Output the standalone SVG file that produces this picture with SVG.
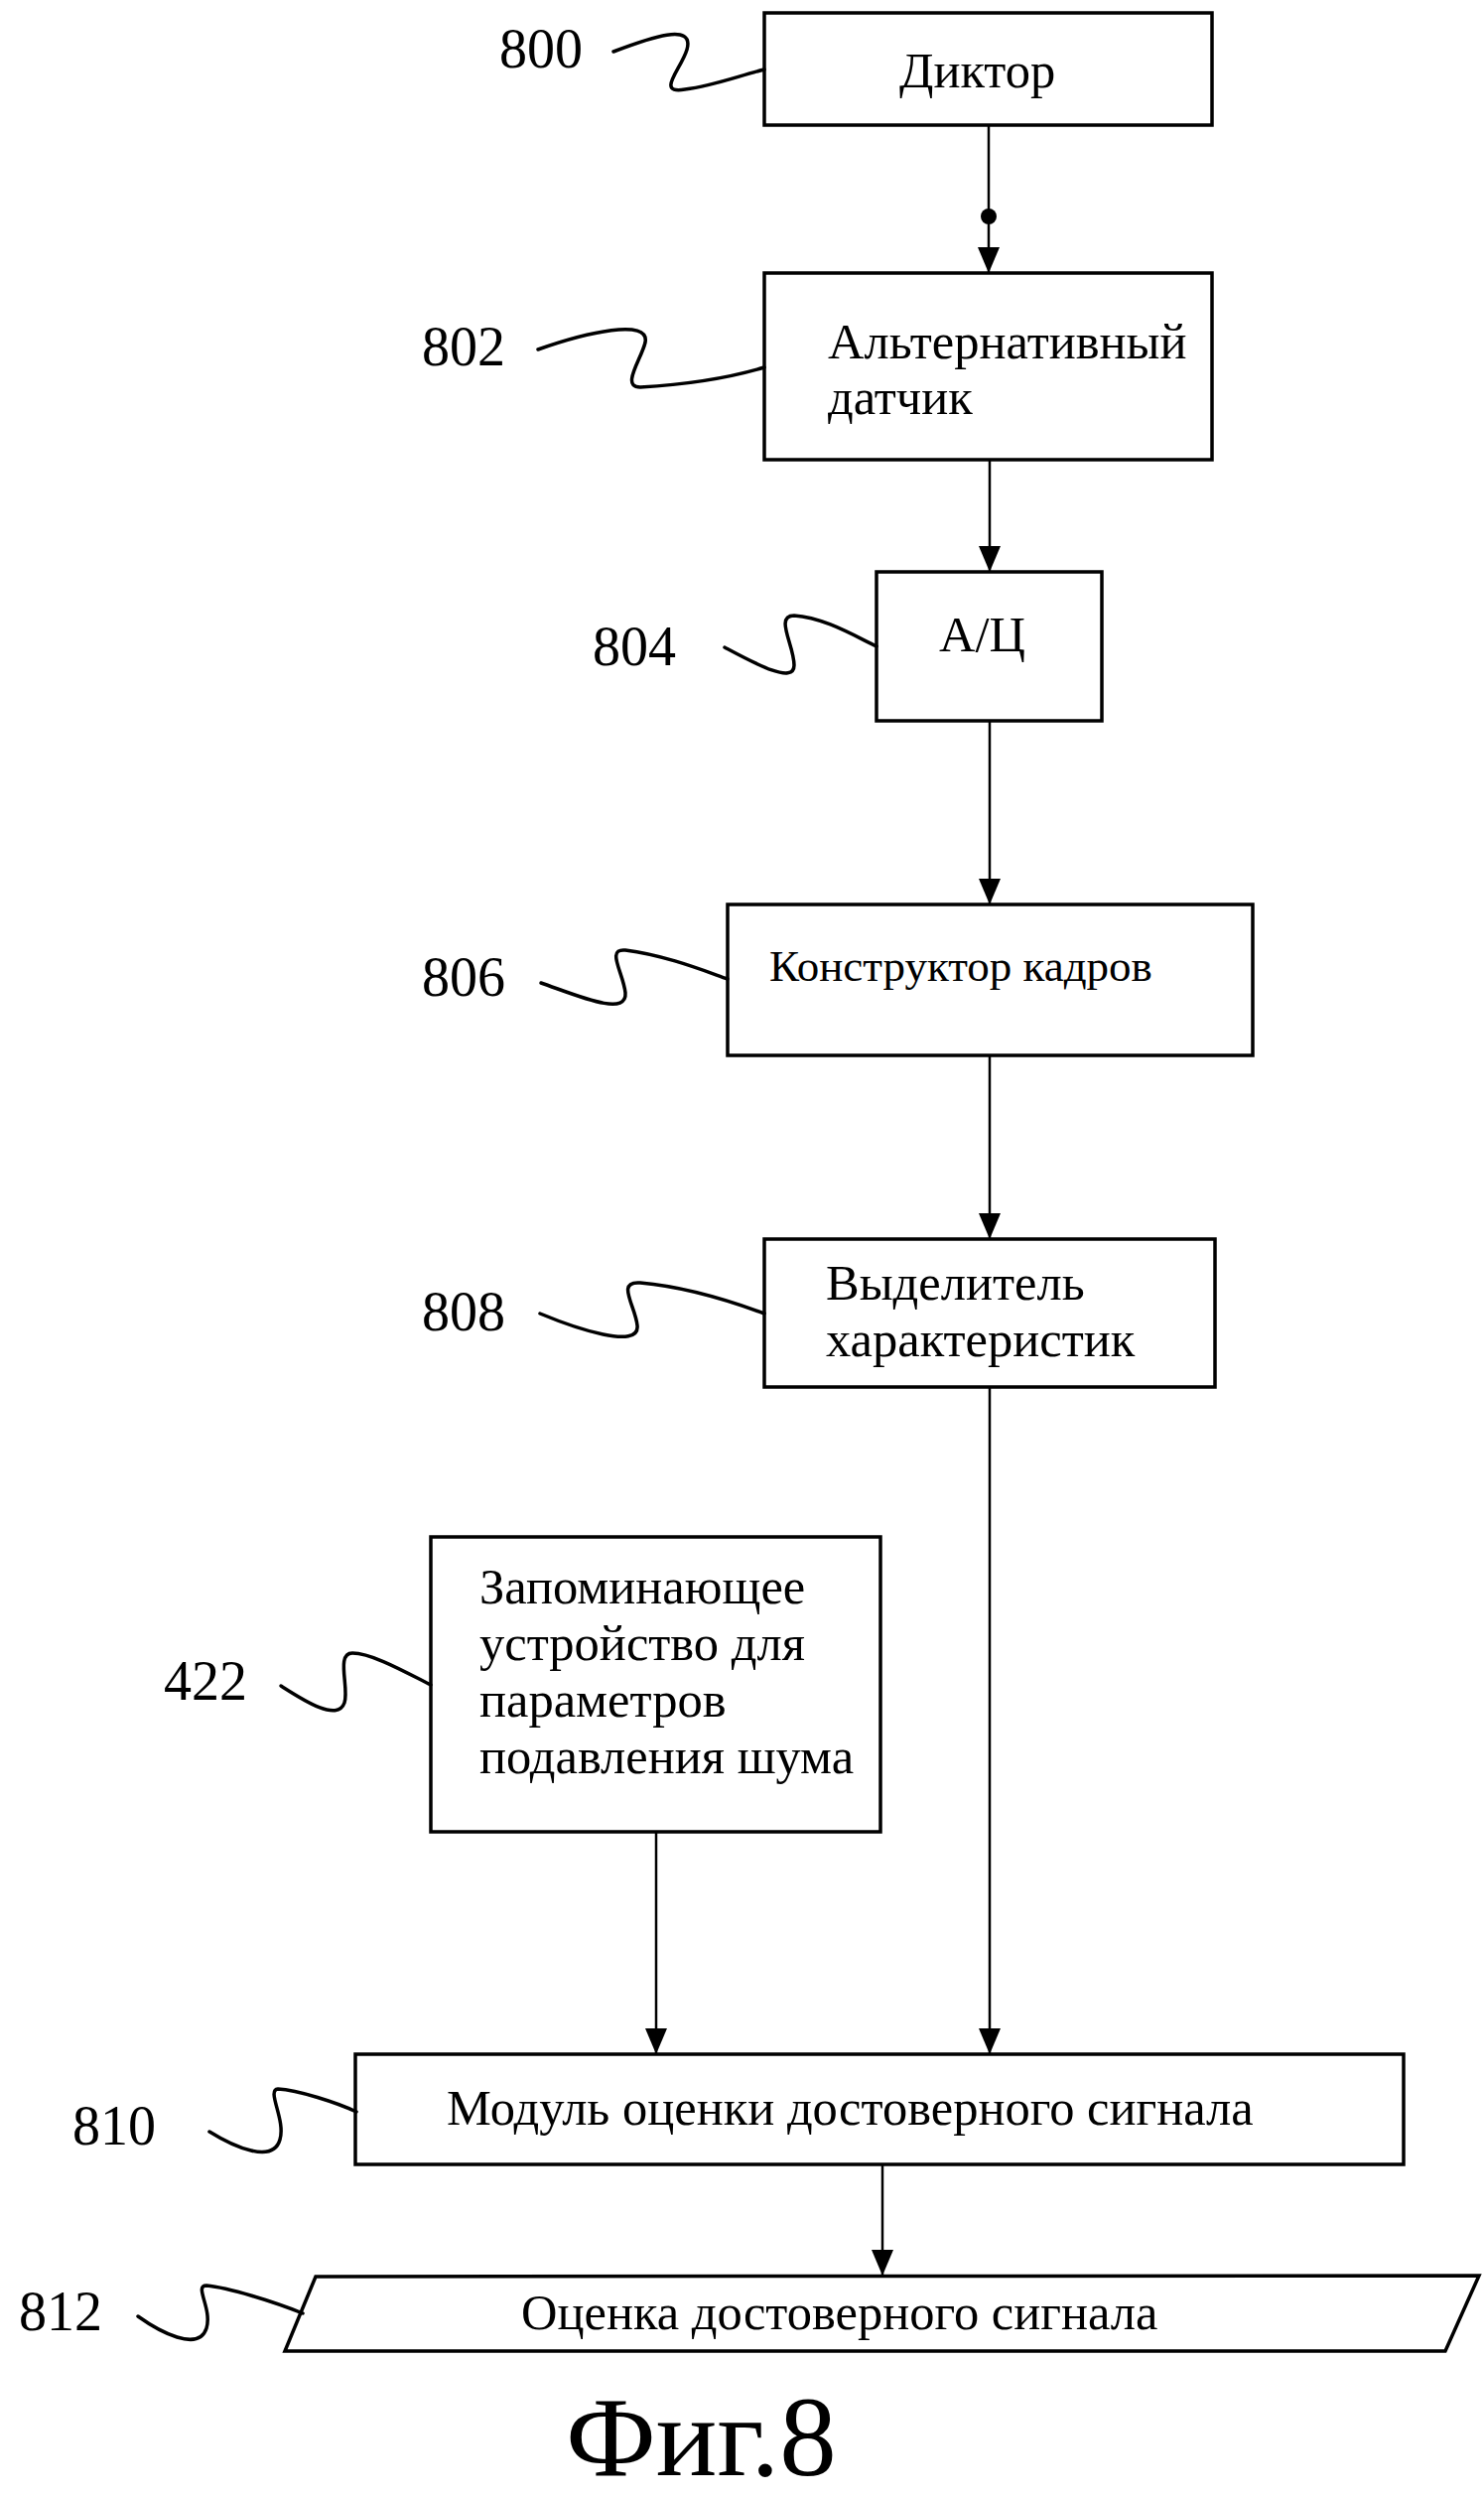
<svg xmlns="http://www.w3.org/2000/svg" width="1495" height="2516" viewBox="0 0 1495 2516">
<style>
.box{fill:#fff;stroke:#000;stroke-width:3.5}
.t{font-family:"Liberation Serif","Times New Roman",serif;font-size:50.5px;fill:#000}
.lbl{font-family:"Liberation Serif","Times New Roman",serif;font-size:56px;fill:#000}
.lead{fill:none;stroke:#000;stroke-width:3.5;stroke-linecap:round}
.con{fill:none;stroke:#000;stroke-width:2.5}
</style>
<defs>
<marker id="arr" markerWidth="26" markerHeight="22" refX="26" refY="11" orient="auto" markerUnits="userSpaceOnUse">
<path d="M0,0 L26,11 L0,22 Z" fill="#000"/>
</marker>
</defs>
<rect width="1495" height="2516" fill="#fff"/>
<g id="connectors">
<path class="con" d="M996,126 V275" marker-end="url(#arr)"/>
<circle cx="996" cy="218" r="8" fill="#000"/>
<path class="con" d="M997,463 V576" marker-end="url(#arr)"/>
<path class="con" d="M997,726 V911" marker-end="url(#arr)"/>
<path class="con" d="M997,1063 V1248" marker-end="url(#arr)"/>
<path class="con" d="M997,1397 V2069" marker-end="url(#arr)"/>
<path class="con" d="M661,1845 V2069" marker-end="url(#arr)"/>
<path class="con" d="M889,2180 V2292" marker-end="url(#arr)"/>
</g>
<g id="n800">
<rect class="box" x="770" y="13" width="451" height="113"/>
<text class="t" x="906" y="88">Диктор</text>
<text class="lbl" x="503" y="68">800</text>
<path class="lead" d="M618,52 C655,38 700,22 692,50 C686,70 660,95 690,90 C720,86 745,76 770,70"/>
</g>
<g id="n802">
<rect class="box" x="770" y="275" width="451" height="188"/>
<text class="t" x="834" y="361">Альтернативный</text>
<text class="t" x="834" y="417">датчик</text>
<text class="lbl" x="425" y="368">802</text>
<path class="lead" d="M542,352 C590,335 655,320 650,345 C646,362 625,390 645,390 C680,388 730,382 770,370"/>
</g>
<g id="n804">
<rect class="box" x="883" y="576" width="227" height="150"/>
<text class="t" x="946" y="656">А/Ц</text>
<text class="lbl" x="597" y="670">804</text>
<path class="lead" d="M730,652 C760,668 800,690 800,670 C800,650 780,620 800,620 C830,622 860,640 883,651"/>
</g>
<g id="n806">
<rect class="box" x="733" y="911" width="529" height="152"/>
<text class="t" x="775" y="988" style="font-size:45px">Конструктор кадров</text>
<text class="lbl" x="425" y="1003">806</text>
<path class="lead" d="M545,990 C580,1002 632,1025 630,1000 C628,980 610,955 630,957 C670,962 710,978 733,986"/>
</g>
<g id="n808">
<rect class="box" x="770" y="1248" width="454" height="149"/>
<text class="t" x="832" y="1309">Выделитель</text>
<text class="t" x="832" y="1366">характеристик</text>
<text class="lbl" x="425" y="1340">808</text>
<path class="lead" d="M544,1323 C580,1338 645,1360 642,1335 C640,1315 620,1290 645,1292 C690,1296 735,1310 770,1323"/>
</g>
<g id="n422">
<rect class="box" x="434" y="1548" width="453" height="297"/>
<text class="t" x="483" y="1615">Запоминающее</text>
<text class="t" x="483" y="1672">устройство для</text>
<text class="t" x="483" y="1729">параметров</text>
<text class="t" x="483" y="1786">подавления шума</text>
<text class="lbl" x="165" y="1712">422</text>
<path class="lead" d="M283,1698 C305,1712 340,1735 347,1715 C352,1700 338,1665 355,1665 C375,1665 410,1685 434,1697"/>
</g>
<g id="n810">
<rect class="box" x="358" y="2069" width="1056" height="111"/>
<text class="t" x="450" y="2140">Модуль оценки достоверного сигнала</text>
<text class="lbl" x="73" y="2160">810</text>
<path class="lead" d="M211,2147 C235,2162 275,2180 282,2155 C288,2135 268,2105 280,2104 C300,2105 340,2118 359,2127"/>
</g>
<g id="n812">
<polygon class="box" points="318,2293 1490,2292 1456,2368 287,2368"/>
<text class="t" x="525" y="2346">Оценка достоверного сигнала</text>
<text class="lbl" x="19" y="2347">812</text>
<path class="lead" d="M139,2333 C160,2348 200,2370 208,2345 C214,2325 195,2302 208,2302 C230,2304 275,2318 305,2330"/>
</g>
<text class="lbl" x="570" y="2493" style="font-size:115px">Фиг.8</text>
</svg>
